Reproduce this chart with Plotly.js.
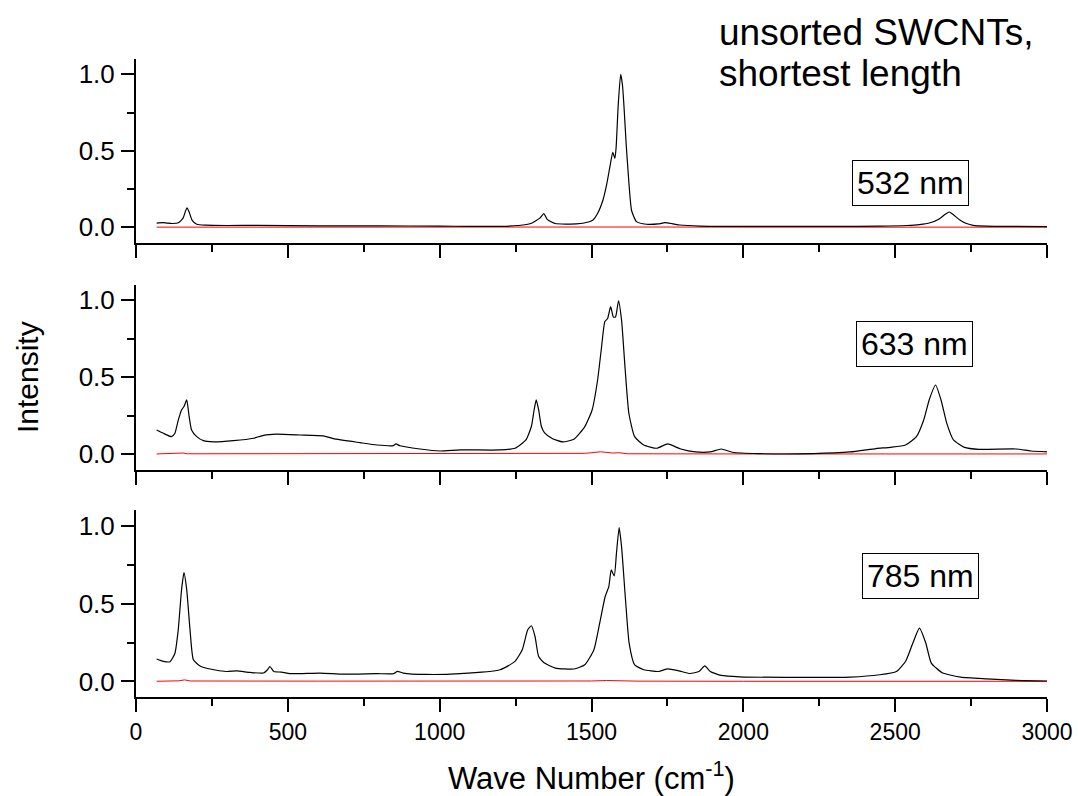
<!DOCTYPE html>
<html>
<head>
<meta charset="utf-8">
<script src="https://cdn.plot.ly/plotly-3.0.1.min.js"></script>
<style>html,body{margin:0;padding:0;background:#fff;}#chart{width:1078px;height:796px;}</style>
</head>
<body>
<div id="chart"></div>
<script>
// ---- 532 nm (top panel) ----
const x532 = [68, 90, 120, 140, 155, 162, 168, 175, 185, 200, 230, 300, 400, 600, 800, 1000, 1100, 1200, 1260, 1300, 1330, 1343, 1355, 1380, 1450, 1490, 1505, 1520, 1538, 1550, 1561, 1570, 1577, 1581, 1588, 1596, 1602, 1607, 1614, 1621, 1632, 1648, 1681, 1720, 1742, 1765, 1791, 1857, 2000, 2300, 2450, 2538, 2580, 2615, 2645, 2665, 2678, 2690, 2713, 2735, 2757, 2800, 2900, 3000];
const y532 = [0.028, 0.030, 0.025, 0.030, 0.060, 0.100, 0.128, 0.100, 0.045, 0.020, 0.014, 0.012, 0.013, 0.010, 0.009, 0.008, 0.006, 0.006, 0.012, 0.025, 0.060, 0.090, 0.050, 0.025, 0.022, 0.035, 0.048, 0.090, 0.180, 0.280, 0.400, 0.490, 0.450, 0.520, 0.800, 1.000, 0.930, 0.790, 0.550, 0.350, 0.110, 0.037, 0.020, 0.022, 0.030, 0.024, 0.015, 0.008, 0.006, 0.006, 0.008, 0.012, 0.018, 0.030, 0.055, 0.085, 0.100, 0.085, 0.048, 0.025, 0.013, 0.008, 0.006, 0.005];
const xRed532 = [68, 500, 1000, 1500, 1560, 1590, 1620, 1700, 2000, 2500, 3000];
const yRed532 = [0.001, 0.002, 0.001, 0.003, 0.006, 0.005, 0.003, 0.002, 0.001, 0.002, 0.001];

// ---- 633 nm (middle panel) ----
const x633 = [68, 90, 117, 128, 139, 150, 158, 167, 175, 183, 200, 222, 255, 321, 387, 420, 463, 540, 617, 650, 738, 793, 847, 856, 869, 935, 1001, 1067, 1199, 1248, 1284, 1302, 1311, 1318, 1326, 1335, 1345, 1369, 1405, 1442, 1478, 1502, 1520, 1532, 1544, 1553, 1563, 1572, 1579, 1589, 1599, 1611, 1623, 1642, 1672, 1715, 1751, 1794, 1842, 1891, 1927, 1964, 2049, 2231, 2352, 2437, 2485, 2534, 2570, 2594, 2612, 2633, 2651, 2670, 2692, 2728, 2777, 2898, 2947, 3000];
const y633 = [0.157, 0.136, 0.114, 0.136, 0.220, 0.287, 0.310, 0.352, 0.244, 0.157, 0.114, 0.088, 0.080, 0.088, 0.104, 0.123, 0.130, 0.125, 0.119, 0.101, 0.075, 0.060, 0.056, 0.067, 0.055, 0.034, 0.021, 0.028, 0.028, 0.039, 0.093, 0.180, 0.287, 0.352, 0.287, 0.180, 0.140, 0.104, 0.080, 0.097, 0.179, 0.287, 0.480, 0.676, 0.860, 0.880, 0.957, 0.890, 0.890, 0.995, 0.870, 0.546, 0.266, 0.114, 0.060, 0.039, 0.067, 0.034, 0.015, 0.015, 0.034, 0.013, 0.004, 0.004, 0.015, 0.037, 0.045, 0.060, 0.114, 0.222, 0.352, 0.449, 0.352, 0.200, 0.093, 0.045, 0.032, 0.034, 0.021, 0.015];
const xRed633 = [68, 140, 155, 170, 500, 1000, 1480, 1530, 1570, 1590, 1620, 2000, 2500, 3000];
const yRed633 = [0.002, 0.004, 0.008, 0.003, 0.004, 0.002, 0.006, 0.016, 0.008, 0.010, 0.003, 0.002, 0.003, 0.002];

// ---- 785 nm (bottom panel) ----
const x785 = [68, 90, 112, 128, 139, 150, 158, 167, 178, 189, 211, 244, 299, 332, 376, 420, 433, 441, 454, 479, 507, 606, 683, 793, 848, 861, 880, 957, 1067, 1199, 1248, 1272, 1290, 1302, 1314, 1326, 1345, 1381, 1442, 1478, 1508, 1527, 1545, 1557, 1565, 1575, 1582, 1591, 1599, 1612, 1624, 1642, 1672, 1721, 1751, 1788, 1824, 1854, 1873, 1891, 1927, 1988, 2170, 2352, 2449, 2504, 2534, 2558, 2580, 2601, 2619, 2655, 2716, 2801, 2898, 3000];
const y785 = [0.144, 0.129, 0.127, 0.180, 0.330, 0.590, 0.700, 0.590, 0.330, 0.139, 0.100, 0.080, 0.064, 0.068, 0.058, 0.054, 0.075, 0.096, 0.064, 0.060, 0.050, 0.054, 0.047, 0.050, 0.050, 0.065, 0.054, 0.045, 0.050, 0.075, 0.129, 0.204, 0.332, 0.358, 0.289, 0.160, 0.118, 0.086, 0.080, 0.107, 0.204, 0.375, 0.546, 0.610, 0.717, 0.679, 0.820, 0.989, 0.867, 0.525, 0.246, 0.107, 0.075, 0.064, 0.081, 0.068, 0.051, 0.064, 0.100, 0.064, 0.039, 0.030, 0.026, 0.028, 0.043, 0.064, 0.128, 0.246, 0.343, 0.246, 0.118, 0.056, 0.028, 0.017, 0.007, 0.003];
const xRed785 = [68, 140, 160, 180, 600, 1000, 1500, 1550, 1590, 1650, 2000, 2580, 3000];
const yRed785 = [0.001, 0.004, 0.010, 0.003, 0.002, 0.001, 0.003, 0.006, 0.004, 0.002, 0.001, 0.003, 0.001];

const laserLabels = ['532 nm', '633 nm', '785 nm'];
const labelX = [2549, 2565, 2583];
const labelY = [0.29, 0.717, 0.676];
const xTicks = [0, 500, 1000, 1500, 2000, 2500, 3000];
const yTicks = [0, 0.5, 1.0];

const FONT = 'Liberation Sans, Arial, sans-serif';

function blk(x, y, xa, ya) {
  return {x: x, y: y, xaxis: xa, yaxis: ya, type: 'scatter', mode: 'lines',
          line: {color: '#000', width: 1.2, shape: 'spline', smoothing: 0.5}, hoverinfo: 'skip', showlegend: false};
}
function red(x, y, xa, ya) {
  return {x: x, y: y, xaxis: xa, yaxis: ya, type: 'scatter', mode: 'lines',
          line: {color: '#ff0000', width: 1}, hoverinfo: 'skip', showlegend: false};
}

const data = [
  red(xRed532, yRed532, 'x', 'y'), blk(x532, y532, 'x', 'y'),
  red(xRed633, yRed633, 'x2', 'y2'), blk(x633, y633, 'x2', 'y2'),
  red(xRed785, yRed785, 'x3', 'y3'), blk(x785, y785, 'x3', 'y3')
];

function xax(anchor, labels) {
  return {
    anchor: anchor, range: [0, 3000], tickvals: xTicks, ticktext: xTicks.map(String),
    showticklabels: labels, showline: true, linewidth: 2, linecolor: '#000',
    ticks: 'outside', ticklen: 13, tickwidth: 2, tickcolor: '#000',
    minor: {dtick: 250, tick0: 0, ticks: 'outside', ticklen: 7, tickwidth: 2, tickcolor: '#000'},
    showgrid: false, zeroline: false, fixedrange: true,
    tickfont: {family: FONT, size: 23, color: '#000'}, ticklabelstandoff: 0
  };
}
function yax(anchor, domain) {
  return {
    anchor: anchor, domain: domain, range: [-0.1, 1.1], tickvals: yTicks,
    ticktext: yTicks.map(v => v.toFixed(1)),
    showline: true, linewidth: 2, linecolor: '#000',
    ticks: 'outside', ticklen: 13, tickwidth: 2, tickcolor: '#000',
    minor: {tickvals: [0.25, 0.75], ticks: 'outside', ticklen: 7, tickwidth: 2, tickcolor: '#000'},
    showgrid: false, zeroline: false, fixedrange: true,
    tickfont: {family: FONT, size: 26, color: '#000'}, ticklabelstandoff: 1
  };
}

const annotations = laserLabels.map((t, i) => ({
  text: t, xref: i === 0 ? 'x' : 'x' + (i + 1), yref: i === 0 ? 'y' : 'y' + (i + 1),
  x: labelX[i], y: labelY[i], showarrow: false, xanchor: 'center', yanchor: 'middle',
  font: {family: FONT, size: 32, color: '#000'}, bordercolor: '#000', borderwidth: 1,
  borderpad: 4, bgcolor: '#fff'
}));
annotations.push(
  {text: 'unsorted SWCNTs,', xref: 'paper', yref: 'paper', x: 0.6378, y: 1.0408,
   xanchor: 'left', yanchor: 'middle', showarrow: false, font: {family: FONT, size: 37, color: '#000'}},
  {text: 'shortest length', xref: 'paper', yref: 'paper', x: 0.6378, y: 0.9765,
   xanchor: 'left', yanchor: 'middle', showarrow: false, font: {family: FONT, size: 37, color: '#000'}},
  {text: 'Intensity', xref: 'paper', yref: 'paper', x: -0.1185, y: 0.5016, textangle: -90,
   xanchor: 'center', yanchor: 'middle', showarrow: false, font: {family: FONT, size: 30, color: '#000'}},
  {text: 'Wave Number (cm<sup>-1</sup>)', xref: 'paper', yref: 'paper', x: 0.5, y: -0.124,
   xanchor: 'center', yanchor: 'middle', showarrow: false, font: {family: FONT, size: 31, color: '#000'}}
);

const layout = {
  width: 1078, height: 796,
  margin: {l: 136, r: 31, t: 59, b: 99},
  paper_bgcolor: '#fff', plot_bgcolor: '#fff',
  showlegend: false,
  xaxis: xax('y', false),
  xaxis2: xax('y2', false),
  xaxis3: xax('y3', true),
  yaxis: yax('x', [0.7122, 1.0]),
  yaxis2: yax('x2', [0.3563, 0.6464]),
  yaxis3: yax('x3', [0, 0.2925]),
  annotations: annotations
};

Plotly.newPlot('chart', data, layout, {displayModeBar: false, staticPlot: true});
</script>
</body>
</html>
